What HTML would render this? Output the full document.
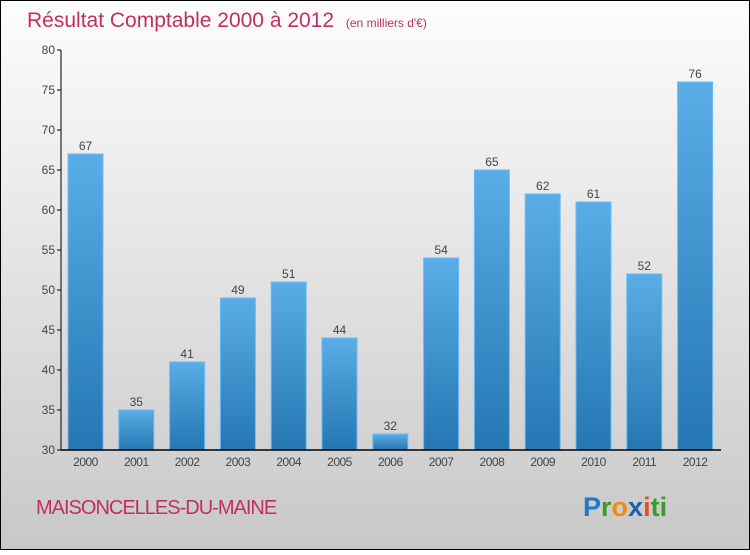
<!DOCTYPE html>
<html><head><meta charset="utf-8"><style>
body{margin:0;width:750px;height:550px;overflow:hidden;font-family:"Liberation Sans",sans-serif}
</style></head><body>
<svg id="c" width="750" height="550" xmlns="http://www.w3.org/2000/svg">
<defs>
<linearGradient id="bg" x1="0" y1="0" x2="0" y2="1"><stop offset="0" stop-color="#fdfdfd"/><stop offset="1" stop-color="#c8c8c8"/></linearGradient>
<linearGradient id="bar" x1="0" y1="0" x2="0" y2="1"><stop offset="0" stop-color="#5aade6"/><stop offset="1" stop-color="#2576b2"/></linearGradient>
</defs>
<rect x="0.5" y="0.5" width="749" height="549" fill="url(#bg)" stroke="#000"/>
<text x="27" y="27" font-size="21" fill="#c0305f">Résultat Comptable 2000 à 2012 <tspan font-size="12" dx="6">(en milliers d'€)</tspan></text>
<g id="plot"></g>
<text x="36" y="514" font-size="20" fill="#c0305f" letter-spacing="-1">MAISONCELLES-DU-MAINE</text>
<text x="583" y="516" font-size="27" font-weight="bold"><tspan fill="#1f78c8">P</tspan><tspan fill="#3a9a2a">r</tspan><tspan fill="#f08a10">o</tspan><tspan fill="#1f5fb0">x</tspan><tspan fill="#e8501a">i</tspan><tspan fill="#3a9a2a">ti</tspan></text>
</svg>
<script>
const years=["2000","2001","2002","2003","2004","2005","2006","2007","2008","2009","2010","2011","2012"];
const values=[67,35,41,49,51,44,32,54,65,62,61,52,76];
const yTicks=[30,35,40,45,50,55,60,65,70,75,80];
const NS="http://www.w3.org/2000/svg";
const g=document.getElementById('plot');
const y=v=>450-(v-30)*8;
const x=i=>85.5+i*50.8;
function mk(t,a,txt){const e=document.createElementNS(NS,t);for(const k in a)e.setAttribute(k,a[k]);if(txt!=null)e.textContent=txt;g.appendChild(e);return e;}
values.forEach((v,i)=>{
 const r=mk('rect',{x:x(i)-17.5,y:y(v),width:35,height:450-y(v),fill:'url(#bar)',stroke:'#6cbcf0','stroke-width':1});
 
 
 const l=mk('text',{x:x(i),y:y(v)-4,'font-size':12,fill:'#444','text-anchor':'middle'},String(v));
 
 
 const t=mk('text',{x:x(i),y:466,'font-size':12,fill:'#444','text-anchor':'middle','letter-spacing':'-0.5'},years[i]);
 
 
});
yTicks.forEach(v=>{
 const tk=mk('line',{x1:57,x2:61,y1:y(v),y2:y(v),stroke:'#000'});
 
 
 const t=mk('text',{x:55,y:y(v)+4,'font-size':12,fill:'#444','text-anchor':'end'},String(v));
 
 
});
const ya=mk('line',{x1:61,x2:61,y1:50,y2:450,stroke:'#000'});


const xa=mk('line',{x1:61,x2:721,y1:450,y2:450,stroke:'#000','stroke-width':1.5});


</script>
</body></html>
